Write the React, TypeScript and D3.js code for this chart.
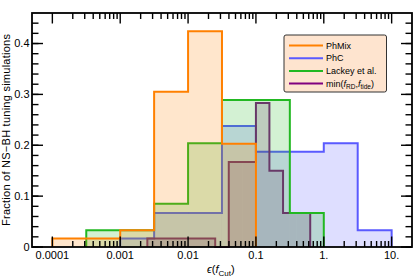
import * as d3 from "d3";

// bin edges and fractions
const phMixEdges = [0.0001, 0.000316, 0.001, 0.00316, 0.01, 0.0316, 0.1];
const phMixValues = [0.0167, 0.0167, 0.033, 0.305, 0.424, 0.203];

const phcEdges = [0.001, 0.00316, 0.01, 0.0316, 0.1, 0.316, 1, 3.16, 10];
const phcValues = [0.0167, 0.067, 0.067, 0.238, 0.187, 0.187, 0.204, 0.033];

const lackeyEdges = [0.000316, 0.001, 0.00316, 0.01, 0.0316, 0.1, 0.316, 1];
const lackeyValues = [0.033, 0.033, 0.085, 0.204, 0.289, 0.289, 0.067];

const minEdges = [
  0.00251, 0.00398, 0.00631, 0.01, 0.0158, 0.0251, 0.0398, 0.0631, 0.1, 0.158,
  0.251, 0.398, 0.631,
];
const minValues = [
  0.0167, 0.0167, 0.0167, 0.0167, 0.0167, 0, 0.167, 0.167, 0.283, 0.15, 0.067,
  0.067,
];

const xMajorTicks = [0.0001, 0.001, 0.01, 0.1, 1, 10];
const xTickLabels = ["0.0001", "0.001", "0.01", "0.1", "1.", "10."];
const yMajorTicks = [0, 0.1, 0.2, 0.3, 0.4];
const yTickLabels = ["0", "0.1", "0.2", "0.3", "0.4"];

const W = 415;
const H = 276;
const FONT = "'Liberation Sans', Arial, Helvetica, sans-serif";

const x = d3.scaleLog().domain([10 ** -4.3, 10 ** 1.3]).range([32, 412]);
const y = d3.scaleLinear().domain([0, 0.46]).range([247, 13]);

const series = [
  { key: "phc", edges: phcEdges, values: phcValues, color: "#5a5aff" },
  { key: "min", edges: minEdges, values: minValues, color: "#7a1a7a" },
  { key: "lackey", edges: lackeyEdges, values: lackeyValues, color: "#22b822" },
  { key: "phmix", edges: phMixEdges, values: phMixValues, color: "#ff8000" },
];

const legendItems = [
  { color: "#ff8000", label: "PhMix" },
  { color: "#5a5aff", label: "PhC" },
  { color: "#22b822", label: "Lackey et al." },
  { color: "#800080", label: "min" },
];

const stepLine = d3
  .line<[number, number]>()
  .x((d) => x(d[0]))
  .y((d) => y(d[1]))
  .curve(d3.curveStepAfter);

function outline(edges: number[], values: number[]) {
  const pts: [number, number][] = [[edges[0], 0]];
  edges.forEach((e, i) => {
    pts.push([e, i < values.length ? values[i] : values[values.length - 1]]);
  });
  pts.push([edges[edges.length - 1], 0]);
  return stepLine(pts);
}

const Hist = ({ s }) => (
  <g>
    {s.values.map((v, i) => (
      <rect
        key={i}
        x={x(s.edges[i])}
        y={y(v)}
        width={x(s.edges[i + 1]) - x(s.edges[i])}
        height={y(0) - y(v)}
        fill={s.color}
        fillOpacity={0.2}
      />
    ))}
    <path
      d={outline(s.edges, s.values)}
      fill="none"
      stroke={s.color}
      strokeWidth={2}
      strokeLinejoin="miter"
    />
  </g>
);

export default function App() {
  const [x0, x1] = x.range();
  const [y0, y1] = y.range();
  const xMinor = x
    .ticks()
    .filter((t) => t >= 0.0001 * 0.999 && t <= 10 * 1.001)
    .filter((t) => !xMajorTicks.some((m) => Math.abs(m - t) / m < 1e-6));
  const yMinor = d3.range(0, 0.441, 0.02);

  const legendX = 284;
  const legendY = 35;

  return (
    <svg
      width={W}
      height={H}
      style={{ position: "absolute", left: 0, top: 0, background: "#fff" }}
      fontFamily={FONT}
    >
      {series.map((s) => (
        <Hist key={s.key} s={s} />
      ))}

      {/* ticks on all four sides */}
      <g stroke="#000" strokeWidth={1.4}>
        {xMinor.map((t, i) => (
          <g key={"xm" + i}>
            <line x1={x(t)} x2={x(t)} y1={y0} y2={y0 - 6} />
            <line x1={x(t)} x2={x(t)} y1={y1} y2={y1 + 6} />
          </g>
        ))}
        {xMajorTicks.map((t, i) => (
          <g key={"xM" + i}>
            <line x1={x(t)} x2={x(t)} y1={y0} y2={y0 - 10.5} />
            <line x1={x(t)} x2={x(t)} y1={y1} y2={y1 + 10.5} />
          </g>
        ))}
        {yMinor.map((t, i) => (
          <g key={"ym" + i}>
            <line x1={x0} x2={x0 + 6.5} y1={y(t)} y2={y(t)} />
            <line x1={x1} x2={x1 - 6.5} y1={y(t)} y2={y(t)} />
          </g>
        ))}
        {yMajorTicks.map((t, i) => (
          <g key={"yM" + i}>
            <line x1={x0} x2={x0 + 11} y1={y(t)} y2={y(t)} />
            <line x1={x1} x2={x1 - 11} y1={y(t)} y2={y(t)} />
          </g>
        ))}
      </g>

      <rect
        x={x0}
        y={y1}
        width={x1 - x0}
        height={y0 - y1}
        fill="none"
        stroke="#000"
        strokeWidth={1.8}
      />

      {/* tick labels */}
      <g fontSize={11} fill="#000">
        {xMajorTicks.map((t, i) => (
          <text key={"xl" + i} x={x(t)} y={258.5} textAnchor="middle">
            {xTickLabels[i]}
          </text>
        ))}
        {yMajorTicks.map((t, i) => (
          <text
            key={"yl" + i}
            x={29.5}
            y={y(t)}
            dy="0.35em"
            textAnchor="end"
          >
            {yTickLabels[i]}
          </text>
        ))}
      </g>

      {/* axis labels */}
      <text
        transform="translate(10,130) rotate(-90)"
        textAnchor="middle"
        fontSize={11}
        textLength={192}
        lengthAdjust="spacing"
      >
        Fraction of NS−BH tuning simulations
      </text>
      <text x={207} y={273} fontSize={11}>
        <tspan fontStyle="italic">ϵ</tspan>(
        <tspan fontStyle="italic">f</tspan>
        <tspan fontSize={8} dy={2.5}>
          Cut
        </tspan>
        <tspan dy={-2.5}>)</tspan>
      </text>

      {/* legend */}
      <rect
        x={legendX}
        y={legendY}
        width={102.5}
        height={57}
        rx={2}
        fill="#fee4cf"
        stroke="#333"
        strokeWidth={1}
      />
      {legendItems.map((d, i) => {
        const ly = 45.5 + i * 12.7;
        return (
          <g key={d.label}>
            <line
              x1={289}
              x2={323}
              y1={ly}
              y2={ly}
              stroke={d.color}
              strokeWidth={2}
            />
            <text x={326} y={ly + 3.2} fontSize={9}>
              {d.label === "min" ? (
                <>
                  min(<tspan fontStyle="italic">f</tspan>
                  <tspan fontSize={6.5} dy={2}>
                    RD
                  </tspan>
                  <tspan dy={-2}>,</tspan>
                  <tspan fontStyle="italic">f</tspan>
                  <tspan fontSize={6.5} dy={2}>
                    tide
                  </tspan>
                  <tspan dy={-2}>)</tspan>
                </>
              ) : (
                d.label
              )}
            </text>
          </g>
        );
      })}
    </svg>
  );
}
